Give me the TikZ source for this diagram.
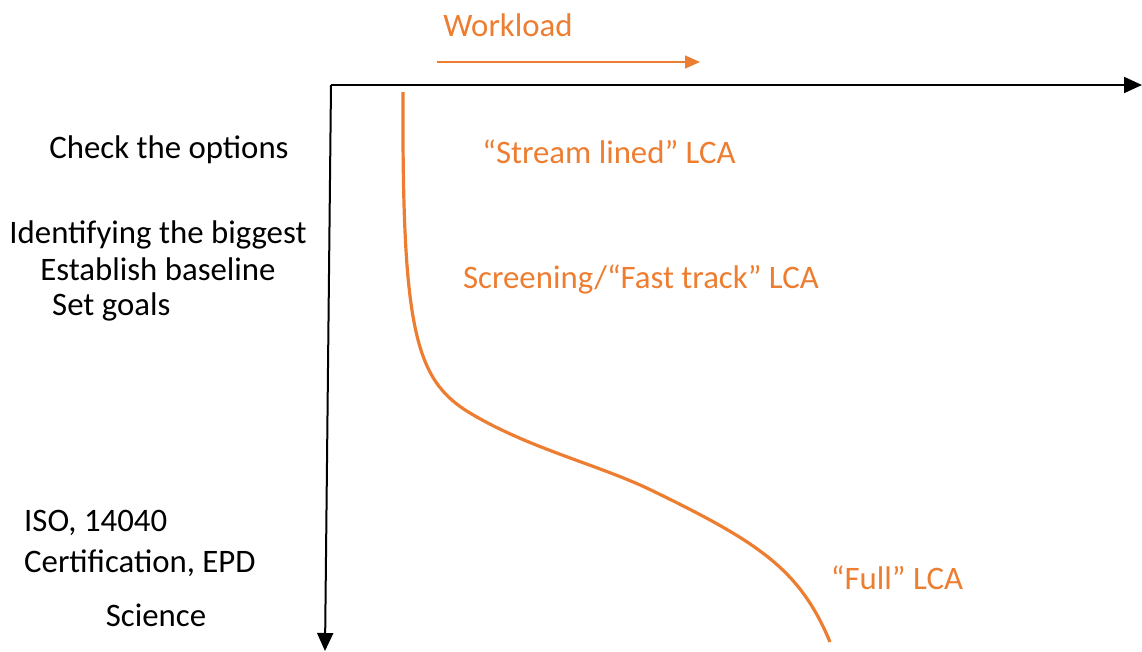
\documentclass[tikz,border=0pt]{standalone}
\usepackage{fontspec}
\setmainfont{Carlito}
\usetikzlibrary{arrows.meta}
\definecolor{lcaorange}{HTML}{ED7D31}
\begin{document}
\begin{tikzpicture}[x=1pt,y=-1pt,
  lbl/.style={font=\fontsize{32.8}{38}\selectfont, inner sep=0pt, text=black},
  olbl/.style={lbl, text=lcaorange},
  axis/.style={draw=black, line width=2pt, -{Triangle[length=18pt,width=16pt]}},
  oarrow/.style={draw=lcaorange, line width=1.6pt, -{Triangle[length=15pt,width=13pt]}},
  curve/.style={draw=lcaorange, line width=3.2pt}]
\useasboundingbox (0,0) rectangle (1142,651);
\coordinate (o) at (331,85);
\coordinate (xend) at (1142,85);
\coordinate (yend) at (325,651);
\draw[axis] (o) -- (xend);
\draw[axis] (o) -- (yend);
\coordinate (w1) at (437,62);
\coordinate (w2) at (700,62);
\draw[oarrow] (w1) -- (w2);
\node[olbl] (work) at (508,25) {Workload};
\node[olbl] (stream) at (609,152) {“Stream lined” LCA};
\node[olbl] (screen) at (641,279) {Screening/“Fast track” LCA};
\node[olbl] (full) at (897,578) {“Full” LCA};
\node[lbl] (check) at (169,150) {Check the options};
\node[lbl] (ident) at (158,235) {Identifying the biggest};
\node[lbl] (estab) at (158,269) {Establish baseline};
\node[lbl, anchor=west] (goals) at (52,307) {Set goals};
\node[lbl, anchor=west] (iso) at (24,523) {ISO, 14040};
\node[lbl, anchor=west] (cert) at (24,563) {Certification, EPD};
\node[lbl] (sci) at (156,615) {Science};
\coordinate (c0) at (403,92);
\coordinate (c1) at (470,413);
\coordinate (c2) at (653,491);
\coordinate (c3) at (830,642);
\draw[curve] (c0) .. controls (402,330) and (415,380) .. (c1)
  .. controls (530,449) and (600,465) .. (c2)
  .. controls (760,543) and (800,570) .. (c3);
\end{tikzpicture}
\end{document}
